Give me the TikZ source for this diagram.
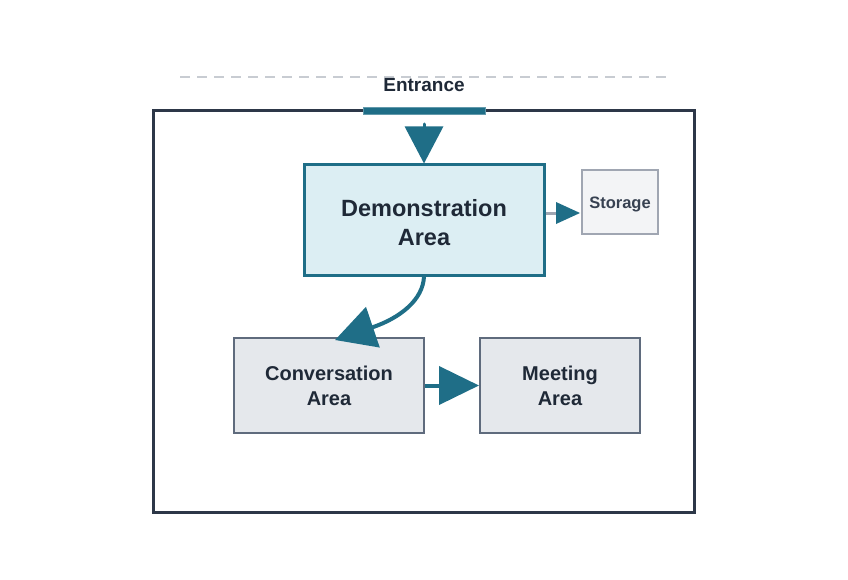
\documentclass[tikz,border=0pt]{standalone}
\usepackage{fontspec}
\setmainfont{Liberation Sans}
\usetikzlibrary{arrows.meta}
\definecolor{teal1}{HTML}{1F6E87}
\definecolor{tealfill}{HTML}{DCEEF3}
\definecolor{slate}{HTML}{2D3748}
\definecolor{boxfill}{HTML}{E5E8EC}
\definecolor{boxline}{HTML}{5F6B7D}
\definecolor{stfill}{HTML}{F3F4F6}
\definecolor{stline}{HTML}{A0A6B2}
\definecolor{txt}{HTML}{1F2937}
\definecolor{sttxt}{HTML}{374151}
\definecolor{dashc}{HTML}{C8CCD2}
\begin{document}
\begin{tikzpicture}[x=1pt,y=-1pt,
  area/.style={draw=boxline,line width=2pt,fill=boxfill,text=txt,font=\bfseries\fontsize{20}{25}\selectfont,align=center,inner sep=0pt},
  flow/.style={draw=teal1,line width=4pt,-{Triangle[length=40pt,width=38pt]}}]
\useasboundingbox (0,0) rectangle (848,580);
\draw[dashc,line width=1.2pt,dash pattern=on 10pt off 7pt] (180,77) -- (668,77);
\node[text=txt,font=\bfseries\fontsize{19}{23}\selectfont] (entr) at (424,85) {Entrance};
\draw[slate,line width=3pt] (153,111) rectangle (694,512);
\node[draw=teal1!70!white,fill=teal1,line width=1pt,minimum width=122pt,minimum height=7pt,inner sep=0pt] (door) at (424,111) {};
\node[draw=teal1,line width=3pt,fill=tealfill,minimum width=240pt,minimum height=110pt,inner sep=0pt] (demo) at (424,220) {};
\node[text=txt,font=\bfseries\fontsize{23.5}{29}\selectfont,align=center,inner sep=0pt] (demotxt) at (424,223) {Demonstration\\Area};
\node[draw=stline,line width=2pt,fill=stfill,minimum width=76pt,minimum height=64pt,inner sep=0pt] (stor) at (620,202) {};
\node[text=sttxt,font=\bfseries\fontsize{16.5}{20}\selectfont,inner sep=0pt] (stortxt) at (620,204) {Storage};
\node[area,minimum width=190pt,minimum height=95pt] (conv) at (329,385.5) {Conversation\\Area};
\node[area,minimum width=160pt,minimum height=95pt] (meet) at (560,385.5) {Meeting\\Area};
\coordinate (ds) at (424,124);
\draw[teal1,line width=3pt,line cap=round,-{Triangle[length=37pt,width=38pt]}] (ds) -- (demo.north);
\coordinate (sy) at (0,213);
\draw[stline,line width=3pt] (demo.east |- sy) -- (557,213);
\draw[draw=none,fill=teal1] (556,202) -- (580,213) -- (556,224) -- cycle;
\coordinate (ctip) at (335,340);
\draw[teal1,line width=4pt,-{Triangle[length=40pt,width=42pt]}] (demo.south) .. controls (423,300) and (400,318) .. (ctip);
\draw[flow] (conv.east) -- (meet.west);
\end{tikzpicture}
\end{document}
